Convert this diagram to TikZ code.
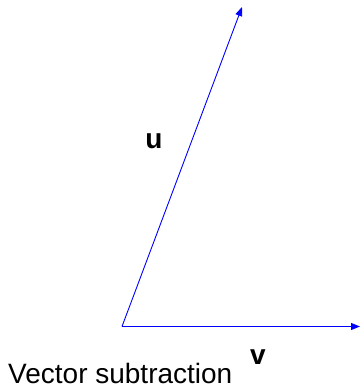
\documentclass[tikz,border=0pt]{standalone}
\usepackage{fontspec}
\setmainfont{Liberation Sans}
\usetikzlibrary{arrows.meta}
\begin{document}
\begin{tikzpicture}[x=1pt,y=-1pt,
  vec/.style={draw=blue,line width=0.9pt,-{Triangle[length=9pt,width=7pt]}},
  lbl/.style={font=\fontsize{28}{30}\selectfont\bfseries,anchor=base,inner sep=0pt},
  captext/.style={font=\fontsize{28}{30}\selectfont,anchor=base west,inner sep=0pt}]
\useasboundingbox (0,0) rectangle (360,389);
\coordinate (o) at (122,326.5);
\coordinate (ut) at (242,7);
\coordinate (vt) at (360,326.5);
\draw[vec] (o) -- (ut);
\draw[vec] (o) -- (vt);
\node[lbl] (u) at (154,148) {u};
\node[lbl] (v) at (258,364) {v};
\node[captext] (title) at (8,383.5) {Vector subtraction};
\end{tikzpicture}
\end{document}
